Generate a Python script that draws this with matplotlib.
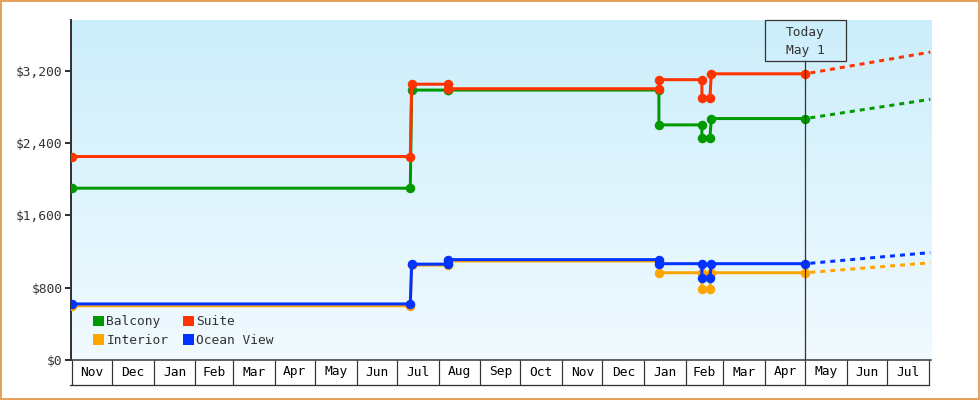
import datetime as dt
import numpy as np
import matplotlib
matplotlib.use("Agg")
import matplotlib.pyplot as plt
import matplotlib.dates as mdates
import matplotlib.transforms as mtransforms
from matplotlib.lines import Line2D
from matplotlib.patches import Patch, Rectangle
from matplotlib.ticker import FuncFormatter

# ---------------- data ----------------
dates = ["2012-11-01", "2013-07-11", "2013-07-12", "2013-08-08", "2013-08-08",
         "2014-01-12", "2014-01-12", "2014-02-13", "2014-02-13", "2014-02-19",
         "2014-02-20", "2014-05-01"]
balcony = [1900, 1900, 2985, 2985, 2985, 2985, 2600, 2600, 2460, 2460, 2670, 2670]
interior = [600, 600, 1050, 1050, 1095, 1095, 965, 965, 790, 790, 965, 965]
suite = [2250, 2250, 3050, 3050, 3000, 3000, 3100, 3100, 2900, 2900, 3165, 3165]
ocean_view = [620, 620, 1060, 1060, 1110, 1110, 1065, 1065, 905, 905, 1065, 1065]

forecast_dates = ["2014-05-01", "2014-08-02"]
balcony_fc = [2670, 2883]
interior_fc = [965, 1075]
suite_fc = [3165, 3405]
ocean_view_fc = [1065, 1188]

series_names = ["Balcony", "Interior", "Suite", "Ocean View"]
series_colors = ["#009900", "#FFA500", "#FF3300", "#0033FF"]
y_ticks = [0, 800, 1600, 2400, 3200]
today_label = ["Today", "May 1"]
today_date = "2014-05-01"

# ---------------- figure ----------------
DPI = 100
W, H = 980, 400
fig = plt.figure(figsize=(W / DPI, H / DPI), dpi=DPI, facecolor="white")
FONT = "DejaVu Sans Mono"
FS = 9.3
DARK = "#333333"

L, R, T, B = 71, 931, 20, 360
ax = fig.add_axes([L / W, 1 - B / H, (R - L) / W, (B - T) / H])

def d(s):
    return dt.datetime.strptime(s, "%Y-%m-%d")

xmin = dt.datetime(2012, 10, 31, 12)
xmax = dt.datetime(2014, 8, 2, 12)

# gradient background
top_c = np.array([204, 238, 251]) / 255
bot_c = np.array([241, 250, 255]) / 255
t = np.linspace(0, 1, 256)[:, None]
grad = (top_c[None, :] * (1 - t) + bot_c[None, :] * t)[:, None, :]
ax.imshow(grad, extent=[0, 1, 0, 1], transform=ax.transAxes, aspect="auto",
          zorder=0, interpolation="bilinear")
ax.set_xlim(xmin, xmax)
ax.set_ylim(0, 3760)

px = 72 / DPI  # points per pixel
lw = 3 * px
ms = 9.5 * px

all_vals = [balcony, interior, suite, ocean_view]
all_fc = [balcony_fc, interior_fc, suite_fc, ocean_view_fc]
xd = [d(s) for s in dates]
xf = [d(s) for s in forecast_dates]
for i, (name, col, vals, fc) in enumerate(zip(series_names, series_colors, all_vals, all_fc)):
    z = 3 + i
    ax.plot(xf, fc, color=col, lw=lw, linestyle=(5 * px / lw, (5 * px / lw, 5 * px / lw)),
            dash_capstyle="butt", zorder=z)
    ax.plot(xd, vals, color=col, lw=lw, marker="o", ms=ms, mew=0, mfc=col,
            solid_joinstyle="miter", zorder=z)

# today line + box
td = d(today_date)
box_bot_frac = (B - 60.7) / (B - T)
ax.axvline(td, ymin=0, ymax=box_bot_frac, color=DARK, lw=0.9, zorder=10)
x0n, x1n = mdates.date2num(xmin), mdates.date2num(xmax)
tdf = (mdates.date2num(td) - x0n) / (x1n - x0n)
bw = 80.4 / (R - L)
rect = Rectangle((tdf - bw / 2, box_bot_frac), bw, 1.0 - box_bot_frac,
                 transform=ax.transAxes, fill=False, edgecolor=DARK, lw=0.9,
                 zorder=11, clip_on=False)
ax.add_patch(rect)
ax.text(tdf, (B - 32.7) / (B - T), today_label[0], transform=ax.transAxes,
        ha="center", va="center", family=FONT, fontsize=FS, color=DARK, zorder=12)
ax.text(tdf, (B - 50.9) / (B - T), today_label[1], transform=ax.transAxes,
        ha="center", va="center", family=FONT, fontsize=FS, color=DARK, zorder=12)

# spines
for s in ["top", "right"]:
    ax.spines[s].set_visible(False)
ax.spines["left"].set_color(DARK)
ax.spines["left"].set_linewidth(2 * px)
ax.spines["bottom"].set_color(DARK)
ax.spines["bottom"].set_linewidth(1.5 * px)

# y axis
ax.set_yticks(y_ticks)
ax.yaxis.set_major_formatter(FuncFormatter(lambda v, p: "${:,.0f}".format(v)))
ax.tick_params(axis="y", length=6 * px, width=2 * px, color=DARK, pad=2.5 * px,
               labelcolor=DARK, labelsize=FS)
for lab in ax.get_yticklabels():
    lab.set_family(FONT)

# x axis: month boxes
month_starts = []
cur = dt.datetime(2012, 11, 1)
while cur <= dt.datetime(2014, 8, 1):
    month_starts.append(cur)
    cur = dt.datetime(cur.year + (cur.month // 12), cur.month % 12 + 1, 1)
mids = [a + (b - a) / 2 for a, b in zip(month_starts[:-1], month_starts[1:])]
ax.set_xticks(month_starts)
ax.set_xticklabels([])
ax.set_xticks(mids, minor=True)
ax.set_xticklabels([m.strftime("%b") for m in mids], minor=True)
ax.tick_params(axis="x", which="major", length=25 * px, width=1.2 * px, color=DARK)
ax.tick_params(axis="x", which="minor", length=0, pad=5.5 * px, labelsize=FS,
               labelcolor="black")
for lab in ax.get_xticklabels(minor=True):
    lab.set_family(FONT)
ax.set_xlim(xmin, xmax)
ax.set_ylim(0, 3760)

trans = mtransforms.blended_transform_factory(ax.transData, ax.transAxes)
ax.add_line(Line2D([mdates.date2num(xmin) - 1, mdates.date2num(month_starts[-1])],
                   [-25 / (B - T)] * 2, transform=trans, color=DARK,
                   lw=1.3 * px, clip_on=False))

# legend
handles = [Patch(facecolor=c, edgecolor="none") for c in series_colors]
leg = ax.legend(handles, series_names, ncol=2, loc="lower left",
                bbox_to_anchor=(22 / (R - L), 13 / (B - T)), frameon=False,
                borderpad=0, borderaxespad=0, handlelength=0.83, handleheight=0.83,
                handletextpad=0.2, columnspacing=1.15, labelspacing=0.45,
                prop={"family": FONT, "size": FS})
for txt in leg.get_texts():
    txt.set_color(DARK)

# figure border
fig.patches.append(Rectangle((1 / W, 1 / H), 1 - 2 / W, 1 - 2 / H,
                             transform=fig.transFigure, fill=False,
                             edgecolor="#E3A35F", lw=2 * px))

fig.savefig("out.png", dpi=DPI, facecolor="white")
